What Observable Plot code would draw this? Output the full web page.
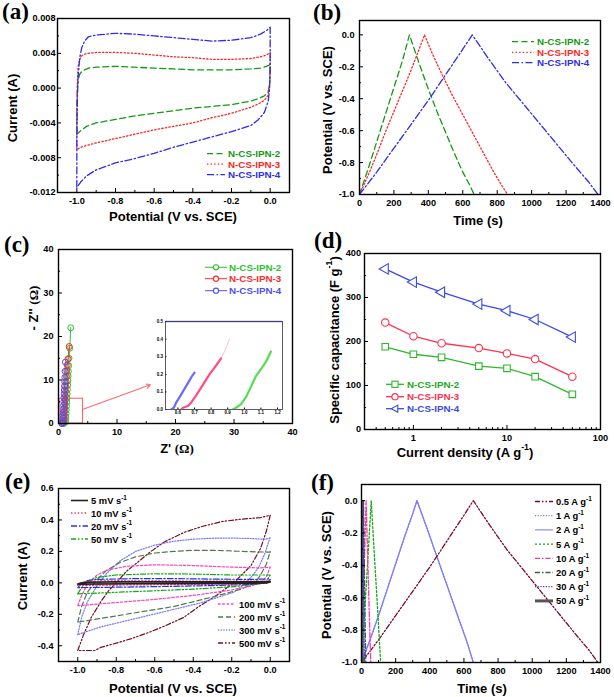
<!DOCTYPE html>
<html><head><meta charset="utf-8">
<script src="https://cdn.jsdelivr.net/npm/d3@7"></script>
<script src="https://cdn.jsdelivr.net/npm/@observablehq/plot@0.6"></script>
<style>
html,body{margin:0;padding:0;background:#fff}
#fig{position:relative;width:614px;height:697px;overflow:hidden;background:#fff}
#overlay{position:absolute;left:0;top:0;pointer-events:none}
</style></head><body><div id="fig"></div>
<script>
// ================= DATA =================
// (a) CV loops, potential (V vs SCE) and current (A)
const aSeries = ["N-CS-IPN-2","N-CS-IPN-3","N-CS-IPN-4"];
const aPotential = [-1.0,-1.0,-0.997,-0.993,-0.985,-0.975,-0.96,-0.94,-0.9,-0.8,-0.7,-0.6,-0.5,-0.4,-0.3,-0.2,-0.1,-0.05,-0.02,0.0,
  0.0,-0.003,-0.01,-0.03,-0.06,-0.1,-0.2,-0.3,-0.4,-0.5,-0.6,-0.7,-0.8,-0.9,-0.95,-0.98,-1.0];
const aCurrent2 = [-0.0053,-0.002,0.0002,0.0009,0.0016,0.0019,0.0021,0.0023,0.0024,0.0025,0.0024,0.0023,0.0022,0.0021,0.0021,0.0021,0.0022,0.0023,0.0025,0.0027,
  0.0015,0.0005,-0.0004,-0.0009,-0.0012,-0.0015,-0.0019,-0.0021,-0.0023,-0.0026,-0.0029,-0.0032,-0.0036,-0.0040,-0.0044,-0.0049,-0.0053];
const aCurrent3 = [-0.0070,-0.003,0.0008,0.0025,0.0033,0.0037,0.0039,0.0040,0.0041,0.0041,0.0040,0.0038,0.0036,0.0035,0.0033,0.0033,0.0034,0.0036,0.0038,0.0041,
  0.0020,0.0005,-0.0008,-0.0014,-0.0018,-0.0022,-0.0029,-0.0034,-0.0040,-0.0044,-0.0048,-0.0053,-0.0058,-0.0063,-0.0066,-0.0068,-0.0071];
const aCurrent4 = [-0.0114,-0.006,-0.001,0.0013,0.0035,0.0046,0.0054,0.0059,0.0061,0.0063,0.0062,0.0060,0.0058,0.0056,0.0054,0.0055,0.0058,0.0062,0.0066,0.0070,
  0.0030,0.0,-0.0015,-0.0028,-0.0036,-0.0043,-0.0050,-0.0056,-0.0062,-0.0068,-0.0075,-0.0081,-0.0086,-0.0094,-0.0101,-0.0108,-0.0114];

// (b) GCD, time (s) and potential (V)
const bTime2 = [0,50,100,150,200,250,290,350,400,450,500,550,600,640,666];
const bPot2  = [-1.0,-0.84,-0.67,-0.5,-0.33,-0.16,0.0,-0.19,-0.34,-0.48,-0.61,-0.74,-0.86,-0.94,-1.0];
const bTime3 = [0,50,100,150,200,250,300,350,378,420,480,540,600,660,720,780,830,860];
const bPot3  = [-1.0,-0.88,-0.75,-0.61,-0.48,-0.35,-0.22,-0.08,0.0,-0.11,-0.25,-0.38,-0.5,-0.62,-0.74,-0.86,-0.95,-1.0];
const bTime4 = [0,100,200,300,400,500,600,655,750,850,950,1050,1150,1250,1330,1385];
const bPot4  = [-1.0,-0.86,-0.71,-0.56,-0.41,-0.25,-0.09,0.0,-0.15,-0.3,-0.43,-0.56,-0.69,-0.82,-0.92,-1.0];

// (c) Nyquist, Z' and -Z'' (ohm)
const cZre2 = [0.93,1.16,1.2,1.24,1.28,1.32,1.36,1.4,1.44,1.48,1.52,1.56,1.6,1.64,1.68,1.73,1.8,1.92,2.1];
const cZim2 = [0,0.33,0.8,1.5,2.3,3.1,4.0,4.9,5.8,6.8,7.8,8.8,9.8,10.9,12.0,13.3,15.0,17.3,22.0];
const cZre3 = [0.62,0.86,0.9,0.94,0.98,1.02,1.06,1.1,1.14,1.18,1.22,1.26,1.31,1.36,1.42,1.5,1.62,1.83];
const cZim3 = [0,0.29,0.7,1.3,2.0,2.8,3.6,4.5,5.4,6.4,7.4,8.5,9.6,10.8,12.1,13.4,14.8,17.7];
const cZre4 = [0.56,0.70,0.73,0.76,0.79,0.82,0.85,0.88,0.91,0.94,0.97,1.0,1.03,1.06,1.09,1.13,1.18];
const cZim4 = [0,0.21,0.6,1.2,1.9,2.6,3.4,4.2,5.0,5.9,6.8,7.7,8.6,9.6,10.6,12.0,14.1];
// (c) inset (high-frequency region)
const inZre2 = [0.93,0.95,0.98,1.01,1.04,1.07,1.10,1.13,1.16];
const inZim2 = [0,0.01,0.03,0.07,0.13,0.19,0.23,0.27,0.33];
const inZre3 = [0.62,0.63,0.66,0.68,0.71,0.75,0.79,0.83,0.86];
const inZim3 = [0,0.01,0.02,0.04,0.08,0.14,0.20,0.25,0.29];
const inZre3b = [0.86,0.89,0.91];
const inZim3b = [0.29,0.35,0.40];
const inZre4 = [0.56,0.575,0.59,0.61,0.635,0.66,0.685,0.70];
const inZim4 = [0,0.01,0.04,0.07,0.11,0.15,0.19,0.21];
// zoom box and arrow annotation (data units)
const cZoomBox = [{x1:0.2, x2:4.2, y1:0, y2:5.7}];
const cArrow = [{x1:4.2, y1:3.3, x2:15.7, y2:8.9}];

// (d) rate capability
const dDensity = [0.5,1,2,5,10,20,50];
const dCap2 = [188,171,164,144,139,120,80];
const dCap3 = [243,212,196,185,173,160,120];
const dCap4 = [365,335,312,285,270,250,210];

// (e) CV at scan rates (mV/s)
const eRates = ["5","10","20","50","100","200","300","500"];
const eV5 = [-1.0,-0.98,-0.95,-0.8,-0.4,0.0, 0.0,-0.02,-0.3,-0.7,-1.0];
const eI5 = [-0.008,0.0,0.004,0.006,0.006,0.007, 0.006,-0.001,-0.004,-0.006,-0.008];
const eV10 = [-1.0,-0.98,-0.95,-0.9,-0.6,-0.3,0.0, 0.0,-0.02,-0.2,-0.5,-0.8,-1.0];
const eI10 = [-0.016,0.0,0.008,0.012,0.013,0.011,0.012, 0.01,-0.002,-0.008,-0.011,-0.014,-0.016];
const eV20 = [-1.0,-0.98,-0.95,-0.9,-0.7,-0.5,-0.3,-0.1,0.0, 0.0,-0.02,-0.1,-0.3,-0.5,-0.7,-0.9,-1.0];
const eI20 = [-0.03,-0.005,0.015,0.022,0.027,0.027,0.024,0.022,0.025, 0.02,0.0,-0.01,-0.017,-0.022,-0.026,-0.029,-0.03];
const eV50 = [-1.0,-0.98,-0.95,-0.9,-0.8,-0.6,-0.4,-0.2,0.0, 0.0,-0.02,-0.05,-0.2,-0.4,-0.6,-0.8,-1.0];
const eI50 = [-0.07,-0.03,0.01,0.035,0.05,0.058,0.056,0.05,0.05, 0.05,0.01,-0.005,-0.025,-0.04,-0.05,-0.06,-0.07];
const eV100 = [-1.0,-0.98,-0.95,-0.9,-0.85,-0.75,-0.6,-0.4,-0.2,-0.05,0.0, 0.0,-0.02,-0.05,-0.1,-0.2,-0.4,-0.6,-0.8,-0.95,-1.0];
const eI100 = [-0.145,-0.08,-0.01,0.05,0.08,0.105,0.115,0.11,0.1,0.095,0.1, 0.1,0.04,0.0,-0.02,-0.045,-0.08,-0.105,-0.125,-0.14,-0.145];
const eV200 = [-1.0,-0.98,-0.95,-0.9,-0.85,-0.78,-0.7,-0.6,-0.5,-0.4,-0.3,-0.2,-0.1,0.0, 0.0,-0.02,-0.05,-0.08,-0.15,-0.3,-0.5,-0.7,-0.85,-0.95,-1.0];
const eI200 = [-0.25,-0.15,-0.06,0.02,0.08,0.13,0.165,0.19,0.2,0.207,0.207,0.203,0.198,0.195, 0.2,0.12,0.05,0.0,-0.04,-0.09,-0.15,-0.19,-0.22,-0.24,-0.25];
const eV300 = [-1.0,-0.98,-0.95,-0.9,-0.85,-0.78,-0.7,-0.6,-0.5,-0.4,-0.3,-0.2,-0.1,-0.03,0.0, 0.0,-0.03,-0.06,-0.09,-0.125,-0.19,-0.37,-0.54,-0.71,-0.88,-0.98,-1.0];
const eI300 = [-0.33,-0.22,-0.12,-0.02,0.06,0.14,0.2,0.24,0.265,0.278,0.284,0.285,0.282,0.277,0.285, 0.29,0.18,0.1,0.05,0.0,-0.06,-0.13,-0.18,-0.23,-0.28,-0.32,-0.33];
const eV500 = [-1.0,-0.97,-0.93,-0.88,-0.84,-0.8,-0.75,-0.7,-0.62,-0.55,-0.45,-0.35,-0.25,-0.15,-0.05,0.0, 0.0,-0.02,-0.05,-0.1,-0.19,-0.28,-0.37,-0.45,-0.54,-0.62,-0.71,-0.79,-0.88,-0.91,-0.97,-1.0];
const eI500 = [-0.43,-0.33,-0.22,-0.12,-0.05,0.0,0.07,0.12,0.2,0.26,0.32,0.36,0.39,0.405,0.415,0.43, 0.43,0.33,0.22,0.11,0.0,-0.08,-0.15,-0.22,-0.27,-0.31,-0.35,-0.38,-0.41,-0.43,-0.43,-0.43];

// (f) GCD of N-CS-IPN-4 at current densities (A/g)
const fDensities = ["0.5","1","2","5","10","20","30","50"];
const fT05 = [0,100,200,300,400,500,600,655,750,850,950,1050,1150,1250,1330,1385];
const fV05 = [-1.0,-0.86,-0.71,-0.56,-0.41,-0.25,-0.09,0.0,-0.15,-0.3,-0.43,-0.56,-0.69,-0.82,-0.92,-1.0];
const fT1 = [0,50,100,150,200,250,300,325,380,440,500,560,620,655];
const fV1 = [-1.0,-0.86,-0.71,-0.55,-0.39,-0.23,-0.08,0.0,-0.16,-0.34,-0.52,-0.7,-0.88,-1.0];
const fT2 = [0,50,100,150,200,250,300,325,380,440,500,560,620,655];
const fV2 = [-1.0,-0.86,-0.71,-0.55,-0.39,-0.23,-0.08,0.0,-0.16,-0.34,-0.52,-0.7,-0.88,-1.0];
const fT5 = [0,20,40,57,75,95,112];
const fV5 = [-1.0,-0.66,-0.31,0.0,-0.33,-0.68,-1.0];
const fT10 = [0,14,27,40,54];
const fV10 = [-1.0,-0.49,0.0,-0.49,-1.0];
const fT20 = [0,6,12,18,25];
const fV20 = [-1.0,-0.5,0.0,-0.52,-1.0];
const fT30 = [0,4,8,12,16];
const fV30 = [-1.0,-0.5,0.0,-0.5,-1.0];
const fT50 = [0,2,4,6,8];
const fV50 = [-1.0,-0.5,0.0,-0.5,-1.0];

// tick values
const ticksPotMaj = [-1.0,-0.8,-0.6,-0.4,-0.2,0.0];
const ticksPotMin = [-0.9,-0.7,-0.5,-0.3,-0.1];
const ticksAYMaj = [-0.012,-0.008,-0.004,0.0,0.004,0.008];
const ticksAYMin = [-0.010,-0.006,-0.002,0.002,0.006];
const ticksTimeMaj = [0,200,400,600,800,1000,1200,1400];
const ticksTimeMin = [100,300,500,700,900,1100,1300];
const ticksVMaj = [-1.0,-0.8,-0.6,-0.4,-0.2,0.0];
const ticksVMin = [-0.9,-0.7,-0.5,-0.3,-0.1];
const ticksCMaj = [0,10,20,30,40];
const ticksCMin = [5,15,25,35];
const ticksInX = [0.6,0.7,0.8,0.9,1.0,1.1,1.2];
const ticksInY = [0.0,0.1,0.2,0.3,0.4,0.5];
const ticksDXMaj = [1,10,100];
const ticksDXMin = [0.4,0.5,0.6,0.7,0.8,0.9,2,3,4,5,6,7,8,9,20,30,40,50,60,70,80,90];
const ticksDYMaj = [0,100,200,300,400];
const ticksDYMin = [50,150,250,350];
const ticksEYMaj = [-0.4,-0.2,0.0,0.2,0.4,0.6];
const ticksEYMin = [-0.5,-0.3,-0.1,0.1,0.3,0.5];

// ================= STYLES =================
const SANS = "'Liberation Sans', Arial, Helvetica, sans-serif";
const SERIF = "'Liberation Serif', 'Times New Roman', serif";
const abColors = ["#139a13","#ff2424","#2d2dec"];
const abDash = ["6,3.5","1.4,2.2","7,2.5,1.5,2.5"];
const cColors = ["#2fbf2f","#ff2a2a","#5050f0"];
const dColors = ["#2db82d","#ff3050","#3a4ae6"];
const eColors = ["#222222","#ff3366","#2233ee","#11aa11","#ff44bb","#4f7a4f","#7777ff","#7a0a1a"];
const eDash = ["none","1.4,2","6,2,1.5,2","5,2,1.5,2,1.5,2","2.5,1.8","5,3","1.2,1.5","5,2,1.5,2,1.5,2"];
const fColors = ["#7a0a2a","#7a7aff","#8a8aff","#11aa11","#ff33aa","#336633","#3333ff","#555555"];
const fDash = ["5,2,1.5,2,1.5,2","1.2,1.5","none","2,2","5,2,1.5,2","5,2,1.5,2","1.2,1.5","none"];
const fWidth = [1.3,1.3,1.2,1.3,1.3,1.3,1.3,3];

// ================= HELPERS =================
const fig = document.getElementById("fig");
const pts = (xs, ys) => xs.map((x, i) => ({x, y: ys[i]}));
const fmt = n => d => d.toFixed(n);
function axisMarks(o) {
  return [
    Plot.axisX(o.xMaj, {anchor:"bottom", tickSize:-4, tickPadding:o.xPad ?? 9, tickFormat:o.xFmt, label:null}),
    Plot.axisX(o.xMin, {anchor:"bottom", tickSize:-2, tickFormat:() => "", label:null}),
    Plot.axisY(o.yMaj, {anchor:"left", tickSize:-4, tickPadding:o.yPad ?? 8, tickFormat:o.yFmt, label:null}),
    Plot.axisY(o.yMin, {anchor:"left", tickSize:-2, tickFormat:() => "", label:null}),
    Plot.frame({stroke:"#000", strokeWidth:o.frameW ?? 1.4})
  ];
}
function panel(p) {
  const svg = Plot.plot({
    width:p.width, height:p.height,
    marginLeft:p.mL, marginRight:p.mR, marginTop:p.mT, marginBottom:p.mB,
    x:p.x, y:p.y,
    style:{position:"absolute", left:p.left+"px", top:p.top+"px", fontFamily:SANS, fontWeight:"bold",
      fontSize:(p.fs ?? 9.2)+"px", background:"transparent", overflow:"visible"},
    marks:[...p.marks, ...axisMarks(p.ax)]
  });
  fig.appendChild(svg);
  return svg;
}
const ln = (data, stroke, dash, w = 1.3) =>
  Plot.line(data, {x:"x", y:"y", stroke, strokeWidth:w, strokeDasharray:dash === "none" ? null : dash, clip:true});

// ================= PANEL (a) =================
panel({left:0, top:0, width:307, height:230, mL:57, mR:18, mT:18, mB:38,
  x:{domain:[-1.1,0.1]}, y:{domain:[-0.012,0.008]},
  marks:[
    ln(pts(aPotential, aCurrent2), abColors[0], abDash[0]),
    ln(pts(aPotential, aCurrent3), abColors[1], abDash[1]),
    ln(pts(aPotential, aCurrent4), abColors[2], abDash[2])
  ],
  ax:{xMaj:ticksPotMaj, xMin:ticksPotMin, yMaj:ticksAYMaj, yMin:ticksAYMin, xFmt:fmt(1), yFmt:fmt(3), yPad:6}
});

// ================= PANEL (b) =================
panel({left:307, top:0, width:307, height:230, mL:52, mR:14, mT:20, mB:36,
  x:{domain:[0,1400]}, y:{domain:[-1,0.09]},
  marks:[
    ln(pts(bTime2, bPot2), abColors[0], abDash[0]),
    ln(pts(bTime3, bPot3), abColors[1], abDash[1]),
    ln(pts(bTime4, bPot4), abColors[2], abDash[2])
  ],
  ax:{xMaj:ticksTimeMaj, xMin:ticksTimeMin, yMaj:ticksVMaj, yMin:ticksVMin, xFmt:fmt(0), yFmt:fmt(1), yPad:9}
});

// ================= PANEL (c) =================
const cSets = [pts(cZre2,cZim2), pts(cZre3,cZim3), pts(cZre4,cZim4)];
panel({left:0, top:230, width:307, height:230, mL:58, mR:15, mT:19, mB:37,
  x:{domain:[0,40]}, y:{domain:[0,40]},
  marks:[
    Plot.rect(cZoomBox, {x1:"x1", x2:"x2", y1:"y1", y2:"y2", fill:"none", stroke:"#ff5a5a", strokeWidth:1}),
    ...cSets.map((d,i) => ln(d, cColors[i], "none", 1)),
    ...cSets.map((d,i) => Plot.dot(d, {x:"x", y:"y", r:3, stroke:cColors[i], fill:"none", strokeWidth:1})),
    Plot.arrow(cArrow, {x1:"x1", y1:"y1", x2:"x2", y2:"y2", stroke:"#ff6a6a", strokeWidth:1.1, headLength:6})
  ],
  ax:{xMaj:ticksCMaj, xMin:ticksCMin, yMaj:ticksCMaj, yMin:ticksCMin, xFmt:fmt(0), yFmt:fmt(0), yPad:9}
});
// inset
{
  const svg = Plot.plot({
    width:140, height:100, marginLeft:20, marginRight:3, marginTop:5, marginBottom:7,
    x:{domain:[0.525,1.23]}, y:{domain:[0,0.5]},
    style:{position:"absolute", left:"145px", top:"316px", fontFamily:SANS, fontWeight:"bold", fontSize:"4.5px", background:"transparent", overflow:"visible"},
    marks:[
      Plot.ruleY([0.5], {stroke:"#7a7aff", strokeWidth:1.5}),
      ln(pts(inZre3b, inZim3b), "#ffc6d2", "1,1", 1.2),
      ln(pts(inZre4, inZim4), "#6a6aff", "none", 2.2),
      ln(pts(inZre3, inZim3), "#ff4d80", "none", 2.2),
      ln(pts(inZre2, inZim2), "#55dd55", "none", 2.2),
      Plot.axisX(ticksInX, {anchor:"bottom", tickSize:-1.5, tickPadding:3, tickFormat:fmt(1), label:null}),
      Plot.axisY(ticksInY, {anchor:"left", tickSize:-1.5, tickPadding:4, tickFormat:fmt(1), label:null}),
      Plot.frame({stroke:"#333", strokeWidth:0.8})
    ]
  });
  fig.appendChild(svg);
}

// ================= PANEL (d) =================
const dSets = [pts(dDensity,dCap2), pts(dDensity,dCap3), pts(dDensity,dCap4)];
const dSymbols = ["square","circle","triangle"];
const dR = [3.7,3.7,3.9];
const dRot = [0,0,-90];
panel({left:307, top:230, width:307, height:230, mL:57, mR:14, mT:23, mB:31,
  x:{type:"log", domain:[0.3,100]}, y:{domain:[0,400]},
  marks:[
    ...dSets.map((d,i) => ln(d, dColors[i], "none", 1.3)),
    ...dSets.map((d,i) => Plot.dot(d, {x:"x", y:"y", r:dR[i], symbol:dSymbols[i], rotate:dRot[i], stroke:dColors[i], fill:"white", strokeWidth:1.1}))
  ],
  ax:{xMaj:ticksDXMaj, xMin:ticksDXMin, yMaj:ticksDYMaj, yMin:ticksDYMin, xFmt:fmt(0), yFmt:fmt(0), yPad:7.5}
});

// ================= PANEL (e) =================
const eSets = [pts(eV5,eI5), pts(eV10,eI10), pts(eV20,eI20), pts(eV50,eI50), pts(eV100,eI100), pts(eV200,eI200), pts(eV300,eI300), pts(eV500,eI500)];
panel({left:0, top:460, width:307, height:237, mL:58, mR:18, mT:28, mB:36,
  x:{domain:[-1.1,0.1]}, y:{domain:[-0.5,0.6]},
  marks: eSets.map((d,i) => ln(d, eColors[i], eDash[i], i === 0 ? 1.6 : 1.2)).reverse(),
  ax:{xMaj:ticksPotMaj, xMin:ticksPotMin, yMaj:ticksEYMaj, yMin:ticksEYMin, xFmt:fmt(1), yFmt:fmt(1), yPad:9}
});

// ================= PANEL (f) =================
const fSets = [pts(fT05,fV05), pts(fT1,fV1), pts(fT2,fV2), pts(fT5,fV5), pts(fT10,fV10), pts(fT20,fV20), pts(fT30,fV30), pts(fT50,fV50)];
const fOrder = [2,1,0,3,4,5,6,7];
panel({left:307, top:460, width:307, height:237, mL:54, mR:14, mT:24, mB:35,
  x:{domain:[0,1400]}, y:{domain:[-1,0.1]},
  marks: fOrder.map(i => ln(fSets[i], fColors[i], fDash[i], fWidth[i] === 3 ? 1.6 : fWidth[i])),
  ax:{xMaj:ticksTimeMaj, xMin:ticksTimeMin, yMaj:ticksVMaj, yMin:ticksVMin, xFmt:fmt(0), yFmt:fmt(1), yPad:8}
});

// ================= OVERLAY TEXT & LEGENDS =================
const ov = [];
function T(x, y, content, o = {}) {
  const {size = 13, anchor = "middle", rotate = false, fill = "#000", family = SANS, baseline = "central"} = o;
  const tr = rotate ? ` transform="rotate(-90 ${x} ${y})"` : "";
  ov.push(`<text x="${x}" y="${y}" font-size="${size}" font-family="${family}" font-weight="bold" fill="${fill}" text-anchor="${anchor}" dominant-baseline="${baseline}"${tr}>${content}</text>`);
}
const sup = (s, size) => `<tspan dy="${-size*0.4}" font-size="${size*0.68}">${s}</tspan><tspan dy="${size*0.4}">`;
function sample(x1, x2, y, stroke, dash, w = 1.3) {
  ov.push(`<line x1="${x1}" x2="${x2}" y1="${y}" y2="${y}" stroke="${stroke}" stroke-width="${w}"${dash && dash !== "none" ? ` stroke-dasharray="${dash}"` : ""}/>`);
}
function marker(shape, cx, cy, r, stroke) {
  if (shape === "circle") ov.push(`<circle cx="${cx}" cy="${cy}" r="${r}" fill="white" stroke="${stroke}" stroke-width="1.1"/>`);
  if (shape === "square") ov.push(`<rect x="${cx-r}" y="${cy-r}" width="${2*r}" height="${2*r}" fill="white" stroke="${stroke}" stroke-width="1.1"/>`);
  if (shape === "tri") ov.push(`<path d="M${cx-r*1.2},${cy}L${cx+r*0.9},${cy-r*1.15}L${cx+r*0.9},${cy+r*1.15}Z" fill="white" stroke="${stroke}" stroke-width="1.1"/>`);
}

// panel labels
const panelLabels = ["(a)","(b)","(c)","(d)","(e)","(f)"];
const plPos = [[2,19],[313,20],[4,252],[314,248],[5,489],[311,490]];
panelLabels.forEach((s,i) => T(plPos[i][0], plPos[i][1], s, {size:23, anchor:"start", family:SERIF, baseline:"alphabetic"}));

// axis titles
T(12, 108, "Current (A)", {rotate:true});
T(173, 216, "Potential (V vs. SCE)");
T(327, 110, "Potential (V vs. SCE)", {rotate:true});
T(478, 220, "Time (s)");
T(33, 308, `- Z'' <tspan font-family="${SERIF}">(Ω)</tspan>`, {rotate:true});
T(177, 448, `Z' <tspan font-family="${SERIF}">(Ω)</tspan>`);
T(334, 340, `Specific capacitance (F g${sup("-1",13)})</tspan>`, {rotate:true});
T(465, 452, `Current density (A g${sup("-1",13)})</tspan>`);
T(22, 576, "Current (A)", {rotate:true});
T(173, 688, "Potential (V vs. SCE)");
T(326, 575, "Potential (V vs. SCE)", {rotate:true});
T(482, 688, "Time (s)");

// legends (a), (b)
const aLegY = [153.7,164.2,174.7];
aSeries.forEach((s,i) => { sample(207,225,aLegY[i],abColors[i],abDash[i]); T(228,aLegY[i],s,{size:9.8,anchor:"start",fill:abColors[i]}); });
const bLegY = [41.7,52.3,62.7];
aSeries.forEach((s,i) => { sample(512,534,bLegY[i],abColors[i],abDash[i]); T(537,bLegY[i],s,{size:9.8,anchor:"start",fill:abColors[i]}); });
// legend (c)
const cLegY = [267.3,278.7,290.7];
aSeries.forEach((s,i) => { sample(205,227,cLegY[i],cColors[i],"none",1); marker("circle",216,cLegY[i],2.6,cColors[i]); T(229,cLegY[i],s,{size:9.8,anchor:"start",fill:cColors[i]}); });
// legend (d)
const dLegY = [384.3,396.7,408.7];
const dLegShape = ["square","circle","tri"];
aSeries.forEach((s,i) => { sample(386,404,dLegY[i],dColors[i],"none"); marker(dLegShape[i],395,dLegY[i],3.1,dColors[i]); T(407,dLegY[i],s,{size:9.8,anchor:"start",fill:i===0?"#22aa22":dColors[i]}); });
// legend (e)
const eLegY = [500.5,513,526,539,604,617,630,643];
eRates.forEach((r,i) => {
  const x1 = i < 4 ? 71 : 218, tx = i < 4 ? 91 : 239;
  sample(x1, x1+17, eLegY[i], eColors[i], eDash[i], i === 0 ? 1.6 : 1.3);
  T(tx, eLegY[i], `${r} mV s${sup("-1",9.4)}</tspan>`, {size:9.4, anchor:"start"});
});
// legend (f)
const fLegY = [501.5,515.7,529.9,544.1,558.3,572.5,586.7,600.9];
fDensities.forEach((r,i) => {
  sample(535, 553, fLegY[i], fColors[i], fDash[i], fWidth[i]);
  T(556, fLegY[i], `${r} A g${sup("-1",9.4)}</tspan>`, {size:9.4, anchor:"start"});
});

const ovDiv = document.createElement("div");
ovDiv.innerHTML = `<svg id="overlay" width="614" height="697" viewBox="0 0 614 697" xmlns="http://www.w3.org/2000/svg">${ov.join("")}</svg>`;
fig.appendChild(ovDiv.firstChild);
</script></body></html>
